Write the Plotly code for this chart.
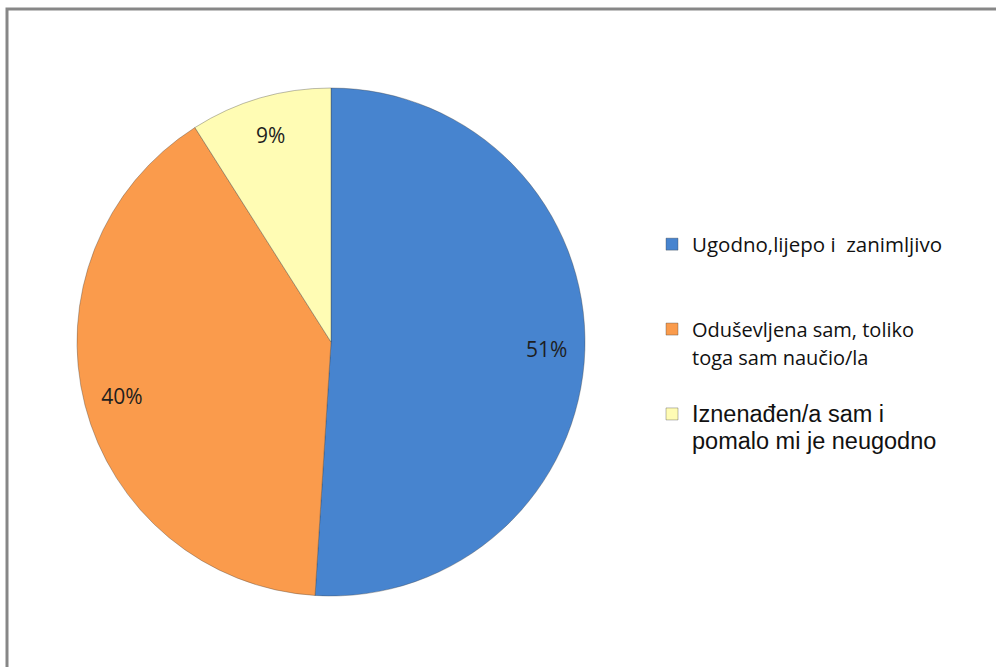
import plotly.graph_objects as go

labels = [
    "Ugodno,lijepo i  zanimljivo",
    "Oduševljena sam, toliko<br>toga sam naučio/la",
    "Iznenađen/a sam i<br>pomalo mi je neugodno",
]
values = [51, 40, 9]
colors = ["#4784CF", "#FA9B4C", "#FFFCB4"]

W, H = 996, 667
FONT = "Open Sans, Noto Sans, sans-serif"
ARIAL = "Liberation Sans, Arial, sans-serif"

legend_labels = [
    '<span style="font-size:20.5px">' + labels[0] + "</span><br> <br> ",
    '<span style="font-size:20px">' + labels[1] + "</span><br> ",
    '<span style="font-family:' + ARIAL + ';font-size:23.5px">' + labels[2] + "</span>",
]

pie_domain = dict(x=[77 / W, 585 / W], y=[1 - 596 / H, 1 - 88 / H])

fig = go.Figure()
# colored slices with legend
fig.add_trace(
    go.Pie(
        labels=legend_labels,
        values=values,
        sort=False,
        direction="clockwise",
        rotation=0,
        marker=dict(colors=colors, line=dict(color="rgba(60,60,60,0.35)", width=1)),
        textinfo="none",
        domain=pie_domain,
        hoverinfo="label+percent",
    )
)
# transparent ring carrying the percentage labels near the rim
fig.add_trace(
    go.Pie(
        labels=["t" + str(i) for i in range(len(values))],
        values=values,
        sort=False,
        direction="clockwise",
        rotation=0,
        hole=0.7,
        showlegend=False,
        marker=dict(colors=["rgba(0,0,0,0)"] * len(values), line=dict(width=0)),
        texttemplate="%{percent:.0%}",
        textposition="inside",
        insidetextorientation="horizontal",
        textfont=dict(family=FONT, size=21, color="#1E1E1E"),
        domain=pie_domain,
        hoverinfo="skip",
    )
)

fig.update_layout(
    width=W,
    height=H,
    margin=dict(l=0, r=0, t=0, b=0),
    paper_bgcolor="white",
    plot_bgcolor="white",
    showlegend=True,
    legend=dict(
        x=652 / W,
        y=1 - 224 / H,
        xanchor="left",
        yanchor="top",
        valign="top",
        font=dict(family=FONT, size=21, color="#111111"),
        itemwidth=30,
        bgcolor="rgba(0,0,0,0)",
    ),
    shapes=[
        dict(
            type="rect",
            xref="paper",
            yref="paper",
            x0=7 / W,
            x1=1.05,
            y0=-0.05,
            y1=1 - 9 / H,
            line=dict(color="#878787", width=3),
            fillcolor="rgba(0,0,0,0)",
            layer="below",
        )
    ],
)

fig.write_html(
    "out.html",
    config={"displayModeBar": False},
    post_script="document.body.style.margin='0';",
)
